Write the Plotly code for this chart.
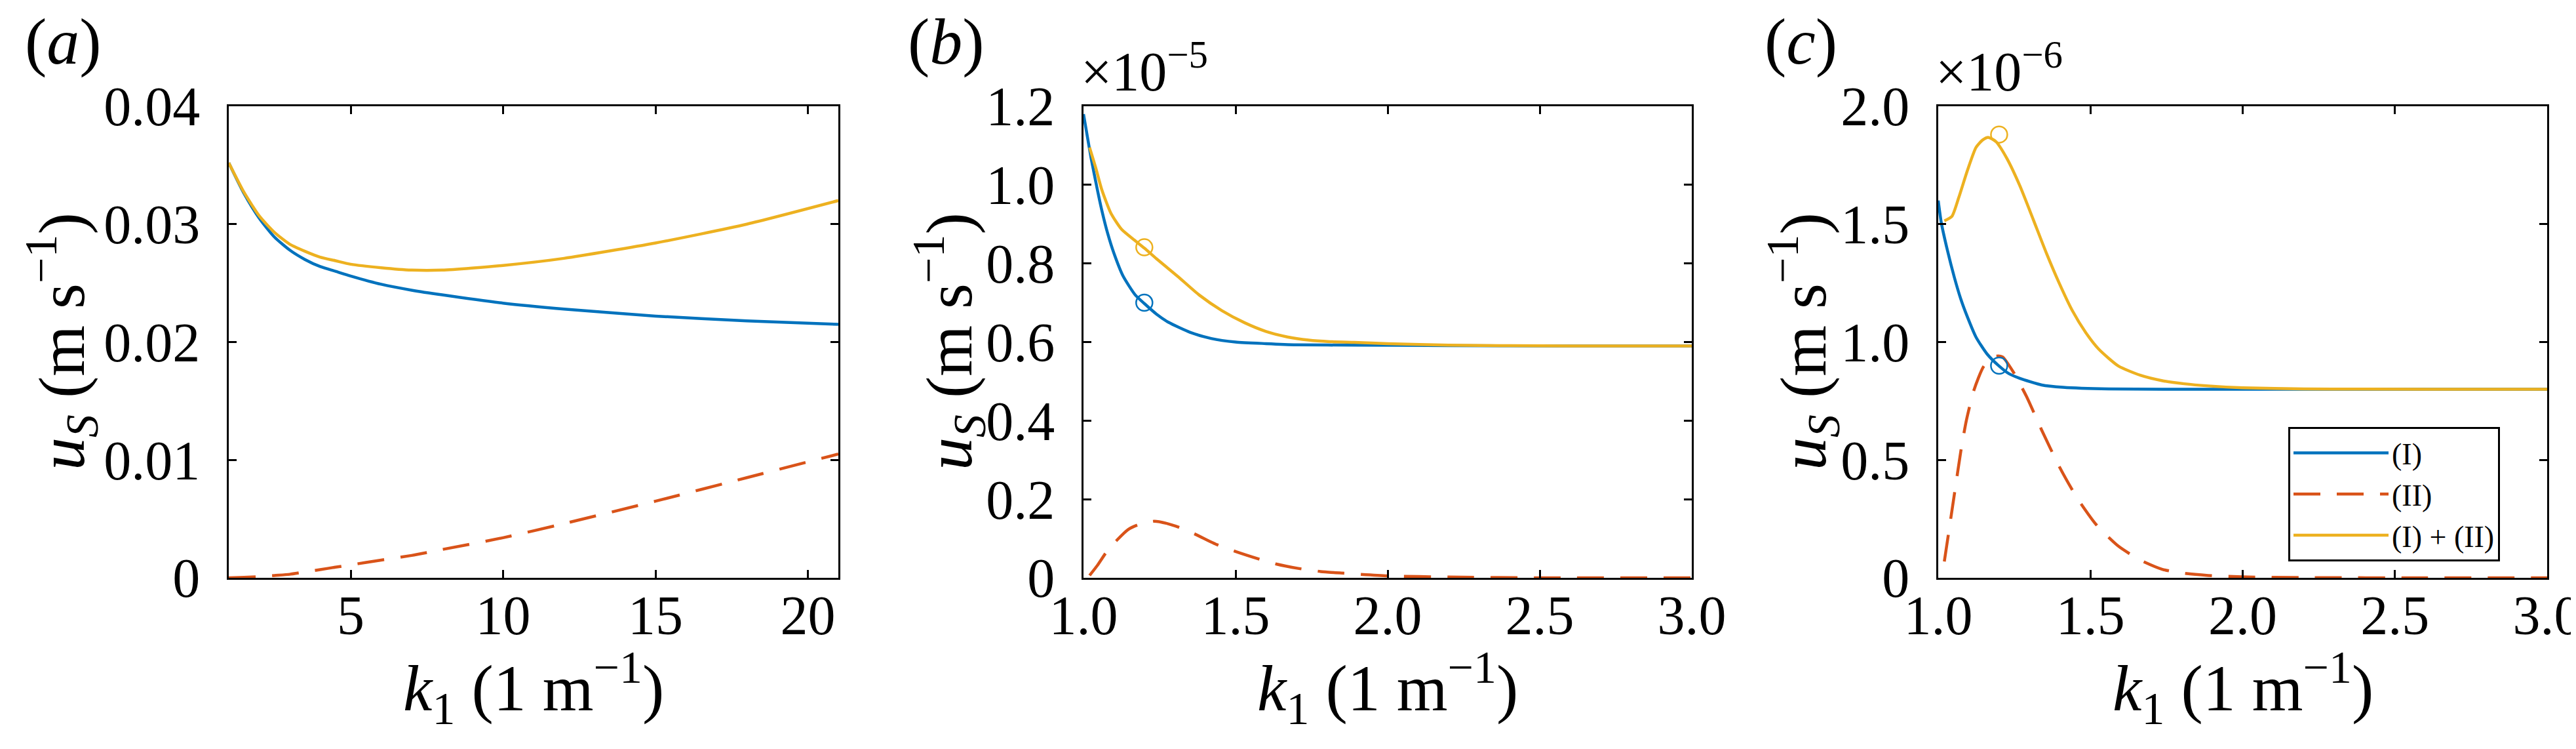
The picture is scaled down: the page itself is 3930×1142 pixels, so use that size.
import plotly.graph_objects as go
from plotly.subplots import make_subplots

W, H = 3930, 1142

blue = "#0072BD"
red = "#D95319"
gold = "#EDB120"
font_name = "Liberation Serif"

# (a) k1 from 1 to 21
k_a = [1, 1.5, 2, 2.5, 3, 3.5, 4, 4.5, 5, 6, 7, 8, 10, 12, 15, 18, 21]
us_a_I = [0.0352, 0.0326, 0.0305, 0.0289, 0.0278, 0.0270, 0.0264, 0.0260, 0.0256,
          0.0249, 0.0244, 0.0240, 0.0233, 0.0228, 0.0222, 0.0218, 0.0215]
us_a_II = [0.0000, 0.00004, 0.0001, 0.0002, 0.0003, 0.0005, 0.0007, 0.0009, 0.0011,
           0.0015, 0.0019, 0.0024, 0.0034, 0.0046, 0.0065, 0.0085, 0.0105]
us_a_sum = [0.0352, 0.0327, 0.0307, 0.0293, 0.0283, 0.0277, 0.0272, 0.0269, 0.0266,
            0.0263, 0.0261, 0.0261, 0.0265, 0.0271, 0.0284, 0.0300, 0.0320]

# (b) values in units of 1e-5
k_b_I = [1.0, 1.01, 1.025, 1.045, 1.06, 1.08, 1.1, 1.13, 1.17, 1.2, 1.24, 1.28, 1.35,
         1.42, 1.5, 1.6, 1.7, 1.9, 2.2, 2.6, 3.0]
us_b_I = [1.18, 1.135, 1.068, 0.99, 0.936, 0.875, 0.826, 0.768, 0.72, 0.698, 0.671,
          0.65, 0.625, 0.609, 0.600, 0.596, 0.593, 0.592, 0.591, 0.59, 0.59]
k_b_II = [1.02, 1.047, 1.075, 1.11, 1.147, 1.18, 1.233, 1.276, 1.32, 1.37, 1.44, 1.5,
          1.58, 1.634, 1.706, 1.78, 1.85, 2.0, 2.2, 2.5, 3.0]
us_b_II = [0.006, 0.033, 0.065, 0.096, 0.123, 0.135, 0.144, 0.138, 0.127, 0.110, 0.084,
           0.067, 0.047, 0.035, 0.024, 0.016, 0.012, 0.005, 0.002, 0.0, 0.0]
k_b_sum = [1.02, 1.04, 1.06, 1.09, 1.125, 1.168, 1.2, 1.24, 1.31, 1.38, 1.455, 1.53,
           1.6, 1.67, 1.74, 1.81, 1.89, 2.0, 2.2, 2.6, 3.0]
us_b_sum = [1.095, 1.044, 0.988, 0.928, 0.887, 0.859, 0.839, 0.812, 0.767, 0.720, 0.680,
            0.649, 0.627, 0.613, 0.605, 0.601, 0.599, 0.596, 0.592, 0.59, 0.59]
mark_b_k = [1.2]
mark_b_I = [0.70]
mark_b_sum = [0.841]

# (c) values in units of 1e-6
k_c_I = [1.0, 1.01, 1.03, 1.053, 1.074, 1.096, 1.124, 1.16, 1.2, 1.232, 1.268, 1.34,
         1.41, 1.56, 1.9, 2.4, 3.0]
us_c_I = [1.60, 1.507, 1.39, 1.274, 1.183, 1.106, 1.021, 0.950, 0.898, 0.866, 0.846,
          0.818, 0.808, 0.801, 0.80, 0.80, 0.80]
k_c_II = [1.02, 1.035, 1.056, 1.074, 1.092, 1.117, 1.15, 1.189, 1.211, 1.247, 1.29,
          1.34, 1.398, 1.455, 1.52, 1.592, 1.664, 1.736, 1.808, 1.887, 2.0, 2.2, 2.6, 3.0]
us_c_II = [0.069, 0.198, 0.380, 0.535, 0.665, 0.795, 0.898, 0.940, 0.937, 0.872, 0.769,
           0.626, 0.471, 0.341, 0.224, 0.134, 0.075, 0.036, 0.019, 0.010, 0.004, 0.001,
           0.0, 0.0]
k_c_sum = [1.02, 1.045, 1.067, 1.096, 1.124, 1.146, 1.164, 1.189, 1.225, 1.268, 1.312,
           1.355, 1.398, 1.441, 1.484, 1.527, 1.592, 1.664, 1.736, 1.808, 1.887, 2.0,
           2.2, 2.6, 3.0]
us_c_sum = [1.514, 1.533, 1.611, 1.728, 1.825, 1.857, 1.868, 1.851, 1.780, 1.663, 1.520,
            1.378, 1.248, 1.132, 1.041, 0.970, 0.898, 0.859, 0.836, 0.823, 0.814, 0.806,
            0.801, 0.80, 0.80]
mark_c_k = [1.2]
mark_c_I = [0.90]
mark_c_sum = [1.88]

legend_names = ["(I)", "(II)", "(I) + (II)"]

# ticks
xt_a = [5, 10, 15, 20]
xt_bc = [1.0, 1.5, 2.0, 2.5, 3.0]
xt_bc_text = ["1.0", "1.5", "2.0", "2.5", "3.0"]
yt_a = [0, 0.01, 0.02, 0.03, 0.04]
yt_a_text = ["0", "0.01", "0.02", "0.03", "0.04"]
yt_b = [0, 0.2, 0.4, 0.6, 0.8, 1.0, 1.2]
yt_b_text = ["0", "0.2", "0.4", "0.6", "0.8", "1.0", "1.2"]
yt_c = [0, 0.5, 1.0, 1.5, 2.0]
yt_c_text = ["0", "0.5", "1.0", "1.5", "2.0"]


def px_x(p):
    return p / W


def px_y(p):
    return 1 - p / H


fig = make_subplots(rows=1, cols=3)

line_w = 4.5
dash_pat = "41px,25px"

panels = [
    (1, k_a, us_a_I, k_a, us_a_II, k_a, us_a_sum),
    (2, k_b_I, us_b_I, k_b_II, us_b_II, k_b_sum, us_b_sum),
    (3, k_c_I, us_c_I, k_c_II, us_c_II, k_c_sum, us_c_sum),
]
for col, kI, uI, kII, uII, kS, uS in panels:
    show = col == 3
    fig.add_trace(go.Scatter(x=kI, y=uI, mode="lines", name=legend_names[0],
                             line=dict(color=blue, width=line_w, shape="spline", smoothing=0.6),
                             showlegend=show), row=1, col=col)
    fig.add_trace(go.Scatter(x=kII, y=uII, mode="lines", name=legend_names[1],
                             line=dict(color=red, width=line_w, dash=dash_pat, shape="spline", smoothing=0.6),
                             showlegend=show), row=1, col=col)
    fig.add_trace(go.Scatter(x=kS, y=uS, mode="lines", name=legend_names[2],
                             line=dict(color=gold, width=line_w, shape="spline", smoothing=0.6),
                             showlegend=show), row=1, col=col)

# circle markers
for col, mk, mI, mS in [(2, mark_b_k, mark_b_I, mark_b_sum), (3, mark_c_k, mark_c_I, mark_c_sum)]:
    fig.add_trace(go.Scatter(x=mk, y=mI, mode="markers", showlegend=False,
                             marker=dict(symbol="circle-open", size=25, color=blue,
                                         line=dict(width=2.5, color=blue))), row=1, col=col)
    fig.add_trace(go.Scatter(x=mk, y=mS, mode="markers", showlegend=False,
                             marker=dict(symbol="circle-open", size=25, color=gold,
                                         line=dict(width=2.5, color=gold))), row=1, col=col)

# axes placement in pixels
x_doms = [(341, 1271), (1645, 2573), (2949, 3878)]
y_top, y_bot = 154, 873

axis_common = dict(showline=True, linecolor="black", linewidth=3, mirror="allticks",
                   ticks="inside", ticklen=12, tickwidth=2.5, tickcolor="black",
                   showgrid=False, zeroline=False, automargin=False,
                   ticklabeloverflow="allow",
                   tickfont=dict(family=font_name, size=84, color="black"))

x_ranges = [[1, 21], [1, 3], [1, 3]]
y_ranges = [[0, 0.04], [0, 1.2], [0, 2.0]]
x_ticks = [(xt_a, [str(v) for v in xt_a]), (xt_bc, xt_bc_text), (xt_bc, xt_bc_text)]
y_ticks = [(yt_a, yt_a_text), (yt_b, yt_b_text), (yt_c, yt_c_text)]

for i in range(3):
    x0, x1 = x_doms[i]
    fig.update_xaxes(domain=[px_x(x0), px_x(x1)], range=x_ranges[i],
                     tickvals=x_ticks[i][0], ticktext=x_ticks[i][1],
                     ticklabelstandoff=-18, row=1, col=i + 1, **axis_common)
    fig.update_yaxes(domain=[px_y(y_bot), px_y(y_top)], range=y_ranges[i],
                     tickvals=y_ticks[i][0], ticktext=y_ticks[i][1],
                     ticklabelstandoff=24, row=1, col=i + 1, **axis_common)

annotations = []
title_font = dict(family=font_name, size=100, color="black")

# panel labels
for lab, cx in [("a", 88), ("b", 1435), ("c", 2739)]:
    annotations.append(dict(text="(<i>%s</i>)" % lab, x=px_x(cx), y=px_y(56),
                            xref="paper", yref="paper", showarrow=False,
                            xanchor="center", yanchor="middle", font=title_font))

# y titles
for cx in [86, 1440, 2743]:
    annotations.append(dict(text="<i>u<sub>S</sub></i> (m s<sup>\u22121</sup>)",
                            x=px_x(cx), y=px_y(513), xref="paper", yref="paper",
                            showarrow=False, textangle=-90, xanchor="center",
                            yanchor="middle", font=title_font))

# x titles
for x0, x1 in x_doms:
    annotations.append(dict(text="<i>k</i><sub>1</sub> (1 m<sup>\u22121</sup>)",
                            x=px_x((x0 + x1) / 2), y=px_y(1041), xref="paper", yref="paper",
                            showarrow=False, xanchor="center", yanchor="middle",
                            font=title_font))

# exponent multipliers
for x0, expo in [(1645, "5"), (2949, "6")]:
    annotations.append(dict(text="\u00d710<sup>\u2212%s</sup>" % expo,
                            x=px_x(x0 - 6), y=px_y(150), xref="paper", yref="paper",
                            showarrow=False, xanchor="left", yanchor="bottom",
                            font=dict(family=font_name, size=84, color="black")))

fig.update_layout(
    width=W, height=H,
    margin=dict(l=0, r=0, t=0, b=0),
    paper_bgcolor="white", plot_bgcolor="white",
    annotations=annotations,
    showlegend=True,
    legend=dict(x=px_x(3483), y=px_y(643), xanchor="left", yanchor="top",
                bgcolor="white", bordercolor="black", borderwidth=3,
                font=dict(family=font_name, size=46, color="black"),
                itemwidth=145, tracegroupgap=0),
    font=dict(family=font_name, color="black"),
)

fig.write_html("out.html")
